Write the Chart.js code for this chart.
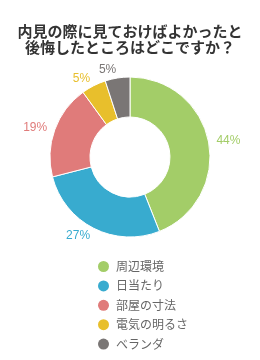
<!DOCTYPE html>
<html>
<head>
<meta charset="utf-8">
<script src="https://cdn.jsdelivr.net/npm/chart.js@4/dist/chart.umd.min.js"></script>
<style>
  html, body { margin: 0; padding: 0; background: #fff; }
  #wrap { width: 260px; height: 360px; }
</style>
</head>
<body>
<div id="wrap"><canvas id="myChart" width="260" height="360"></canvas></div>
<script>
var titleLines = ['内見の際に見ておけばよかったと', '後悔したところはどこですか？'];
var categories = ['周辺環境', '日当たり', '部屋の寸法', '電気の明るさ', 'ベランダ'];
var values = [44, 27, 19, 5, 5];
var colors = ['#a3cd68', '#38abcf', '#e07b7a', '#e8bf2c', '#7a7675'];

// percent labels outside the ring
var outsideLabels = {
    id: 'outsideLabels',
    afterDatasetsDraw: function (chart) {
        var ctx = chart.ctx;
        var meta = chart.getDatasetMeta(0);
        var total = values.reduce(function (a, b) { return a + b; }, 0);
        ctx.save();
        ctx.font = '12px "Liberation Sans", Arial, sans-serif';
        ctx.textBaseline = 'middle';
        meta.data.forEach(function (arc, i) {
            var mid = (arc.startAngle + arc.endAngle) / 2;
            var r = arc.outerRadius + 8;
            var x = arc.x + Math.cos(mid) * r;
            var y = arc.y + Math.sin(mid) * r;
            ctx.textAlign = Math.cos(mid) >= 0 ? 'left' : 'right';
            ctx.fillStyle = colors[i];
            ctx.fillText(Math.round(values[i] / total * 100) + '%', x, y);
        });
        ctx.restore();
    }
};

// vertical legend under the chart
var listLegend = {
    id: 'listLegend',
    afterDraw: function (chart) {
        var ctx = chart.ctx;
        ctx.save();
        ctx.font = '12px "Noto Sans CJK JP", sans-serif';
        ctx.textBaseline = 'middle';
        ctx.textAlign = 'left';
        categories.forEach(function (c, i) {
            var y = 266.5 + i * 19.4;
            ctx.beginPath();
            ctx.arc(103.5, y, 5.5, 0, Math.PI * 2);
            ctx.fillStyle = colors[i];
            ctx.fill();
            ctx.fillStyle = '#666';
            ctx.fillText(c, 116, y);
        });
        ctx.restore();
    }
};

var ctx = document.getElementById('myChart');

const myChart = new Chart(ctx, {
    type: 'doughnut',
    data: {
        labels: categories,
        datasets: [{
            data: values,
            backgroundColor: colors,
            borderColor: '#ffffff',
            borderWidth: 1
        }]
    },
    options: {
        responsive: false,
        animation: false,
        cutout: '50%',
        radius: 80,
        layout: {
            padding: { top: 0, bottom: 123, left: 0, right: 0 }
        },
        plugins: {
            legend: { display: false },
            tooltip: { enabled: false },
            title: {
                display: true,
                text: titleLines,
                color: '#333',
                font: { family: '"Noto Sans CJK JP", sans-serif', size: 15, weight: 'bold', lineHeight: '16px' },
                padding: { top: 23, bottom: 22 }
            }
        }
    },
    plugins: [outsideLabels, listLegend]
});
</script>
</body>
</html>
